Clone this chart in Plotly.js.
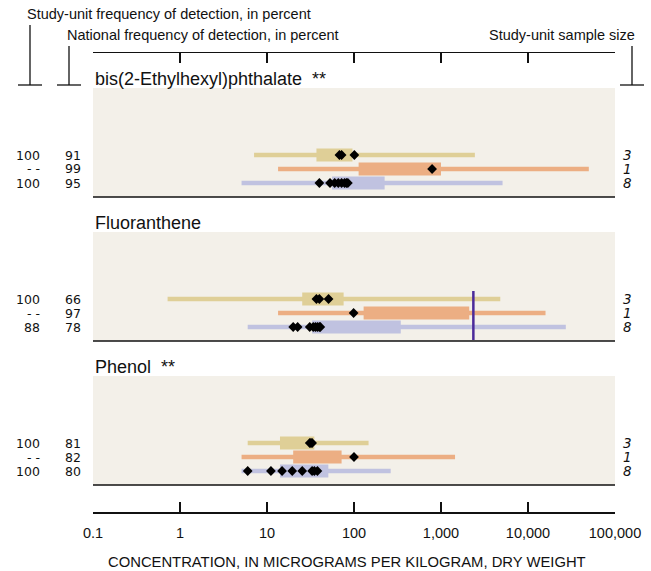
<!DOCTYPE html>
<html>
<head>
<meta charset="utf-8">
<script src="https://cdn.plot.ly/plotly-3.0.1.min.js"></script>
<style>html,body{margin:0;padding:0;background:#fff;}#chart{width:651px;height:571px;}</style>
</head>
<body>
<div id="chart"></div>
<script>
// ---- data ----
const compounds = ['bis(2-Ethylhexyl)phthalate', 'Fluoranthene', 'Phenol'];
const titleMarks = ['**', '', '**'];
const studyFreq = [['100', '- -', '100'], ['100', '- -', '88'], ['100', '- -', '100']];
const nationalFreq = [['91', '99', '95'], ['66', '97', '78'], ['81', '82', '80']];
const sampleSize = [['3', '1', '8'], ['3', '1', '8'], ['3', '1', '8']];
// per compound, per row (yellow, orange, blue)
const minVals = [[7.1, 13.4, 5.1], [0.72, 13.4, 6.0], [6.0, 5.1, 5.1]];
const maxVals = [[2450, 50000, 5100], [4800, 15900, 27200], [147, 1450, 264]];
const boxLow = [[37, 113, 56], [25.4, 129, 33], [14.1, 20, 14.1]];
const boxHigh = [[96, 1000, 225], [76, 2110, 345], [35, 72, 50.7]];
const points = [
  [[68, 72, 101], [790], [40, 53, 60, 66, 72, 78, 82, 85]],
  [[37, 40, 51], [99], [20, 22.5, 31, 34, 36, 38, 40, 41]],
  [[31, 32, 33], [100], [6.0, 11.1, 14.9, 19.5, 25.4, 33, 35, 38]]
];
const guideline = [null, 2355, null];
const tickVals = [0.1, 1, 10, 100, 1000, 10000, 100000];
const tickText = ['0.1', '1', '10', '100', '1,000', '10,000', '100,000'];
const xTitle = 'CONCENTRATION, IN MICROGRAMS PER KILOGRAM, DRY WEIGHT';

// ---- styling / layout ----
const rowColors = ['#dfcf97', '#ecae83', '#c0c2e0'];
const bgColor = '#f3f0e9';
const L = 93, R = 615, T = 53, B = 512;
const W = 651, H = 571;
const panelStep = 144;
const panelTop0 = 88, panelBottom0 = 197, titleY0 = 79, rowY0 = 155, rowGap = 14;
const px = x => (x - L) / (R - L);
const py = y => (B - y) / (B - T);

const traces = [];
const shapes = [];
const annotations = [];
const font = 'Liberation Sans, Arial, sans-serif';

compounds.forEach((name, i) => {
  const off = i * panelStep;
  const pTop = panelTop0 + off, pBot = panelBottom0 + off;
  shapes.push({type: 'rect', xref: 'paper', yref: 'paper', x0: 0, x1: 1, y0: py(pBot), y1: py(pTop),
    fillcolor: bgColor, line: {width: 0}, layer: 'below'});
  shapes.push({type: 'line', xref: 'paper', yref: 'paper', x0: 0, x1: 1, y0: py(pBot), y1: py(pBot),
    line: {color: '#111', width: 1.6}});
  annotations.push({xref: 'paper', yref: 'paper', x: px(L), y: py(titleY0 + off), xanchor: 'left', yanchor: 'middle',
    text: name + (titleMarks[i] ? '&nbsp;&nbsp;' + titleMarks[i] : ''), showarrow: false,
    font: {family: font, size: 18, color: '#111'}});
  for (let r = 0; r < 3; r++) {
    const y = rowY0 + off + r * rowGap;
    traces.push({x: [minVals[i][r], maxVals[i][r]], y: [y, y], mode: 'lines',
      line: {color: rowColors[r], width: 4.5}, hoverinfo: 'skip', showlegend: false});
    traces.push({x: [boxLow[i][r], boxHigh[i][r]], y: [y, y], mode: 'lines',
      line: {color: rowColors[r], width: 13}, hoverinfo: 'skip', showlegend: false});
    traces.push({x: points[i][r], y: points[i][r].map(() => y), mode: 'markers',
      marker: {symbol: 'diamond', size: 7.5, color: '#000'}, showlegend: false});
    annotations.push({xref: 'paper', yref: 'paper', x: px(42), y: py(y), xanchor: 'right', yanchor: 'middle',
      text: studyFreq[i][r], showarrow: false, font: {family: 'DejaVu Sans', size: 12.5, color: '#111'}});
    annotations.push({xref: 'paper', yref: 'paper', x: px(83), y: py(y), xanchor: 'right', yanchor: 'middle',
      text: nationalFreq[i][r], showarrow: false, font: {family: 'DejaVu Sans', size: 12.5, color: '#111'}});
    annotations.push({xref: 'paper', yref: 'paper', x: px(621), y: py(y), xanchor: 'left', yanchor: 'middle',
      text: '<i>' + sampleSize[i][r] + '</i>', showarrow: false, font: {family: 'DejaVu Sans', size: 13.5, color: '#111'}});
  }
  if (guideline[i] !== null) {
    traces.push({x: [guideline[i], guideline[i]], y: [rowY0 + off - 8, pBot - 1], mode: 'lines',
      line: {color: '#4b2a9a', width: 2.5}, hoverinfo: 'skip', showlegend: false});
  }
});

// header brackets
const bracket = (x, yTop, half) => {
  shapes.push({type: 'line', xref: 'paper', yref: 'paper', x0: px(x), x1: px(x), y0: py(85), y1: py(yTop), line: {color: '#111', width: 1.3}});
  shapes.push({type: 'line', xref: 'paper', yref: 'paper', x0: px(x - half), x1: px(x + half), y0: py(85), y1: py(85), line: {color: '#111', width: 1.3}});
};
bracket(30, 25, 12);
bracket(69, 46, 12);
bracket(632, 46, 12);

annotations.push({xref: 'paper', yref: 'paper', x: px(25), y: py(14), xanchor: 'left', yanchor: 'middle',
  text: 'Study-unit frequency of detection, in percent', showarrow: false, font: {family: font, size: 14.5, color: '#111'}});
annotations.push({xref: 'paper', yref: 'paper', x: px(65), y: py(35), xanchor: 'left', yanchor: 'middle',
  text: 'National frequency of detection, in percent', showarrow: false, font: {family: font, size: 14.5, color: '#111'}});
annotations.push({xref: 'paper', yref: 'paper', x: px(637), y: py(35), xanchor: 'right', yanchor: 'middle',
  text: 'Study-unit sample size', showarrow: false, font: {family: font, size: 14.5, color: '#111'}});
annotations.push({xref: 'paper', yref: 'paper', x: px(347), y: py(562), xanchor: 'center', yanchor: 'middle',
  text: xTitle, showarrow: false, font: {family: font, size: 14.8, color: '#111'}});

const layout = {
  width: W, height: H,
  margin: {l: L, r: W - R, t: T, b: H - B},
  paper_bgcolor: '#fff', plot_bgcolor: 'rgba(0,0,0,0)',
  xaxis: {type: 'log', range: [-1, 5], showgrid: false, zeroline: false,
    showline: true, linecolor: '#111', linewidth: 1.5, mirror: 'ticks',
    ticks: 'inside', ticklen: 10, tickwidth: 1.3, tickcolor: '#111',
    tickvals: tickVals, ticktext: tickText, ticklabelstandoff: 7,
    tickfont: {family: font, size: 14.5, color: '#111'}},
  yaxis: {range: [B, T], visible: false, showgrid: false, zeroline: false},
  shapes: shapes,
  annotations: annotations,
  showlegend: false
};

Plotly.newPlot('chart', traces, layout, {displayModeBar: false, staticPlot: true});
</script>
</body>
</html>
